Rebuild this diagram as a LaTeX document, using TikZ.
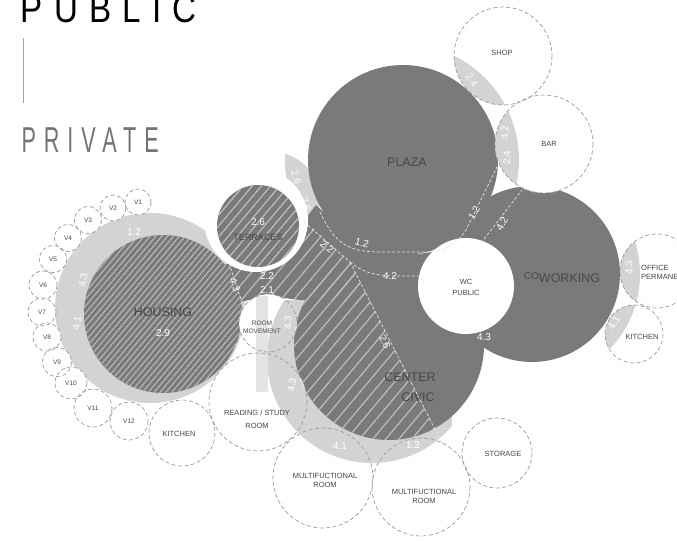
\documentclass[tikz,border=0pt]{standalone}
\usepackage{fontspec}
\setmainfont{Liberation Sans}
\newfontfamily\titlefont[LetterSpace=34]{Liberation Sans}
\newfontfamily\subtitlefont[LetterSpace=37]{Liberation Sans}
\usetikzlibrary{patterns.meta}
\definecolor{zone}{HTML}{7A7A7A}
\definecolor{halo}{HTML}{D3D3D3}
\definecolor{hatch}{HTML}{BEBEBE}
\definecolor{rim}{HTML}{9A9A9A}
\definecolor{ink}{HTML}{474747}
\def\bubbles{503/56/49, 544/144/49, 657/271/37, 634/334/29, 268/323/29, 258/402/49, 182/433/33, 323/478/50, 421/487/49, 497/453/35, 138/202/13, 113/208/13, 88/220/13.5, 68/238/13.5, 53/259/13.5, 43/285/14, 42/312/14, 47/337/14, 57/362/14.5, 71/383/16, 93/408/19, 129/421/19}
\def\corridorpath{(205,268) -- (240,262) -- (280,250) -- (300,226) -- (316,205) -- (345,232) -- (400,258) -- (500,238) -- (470,320) -- (330,300) -- (300,300) -- (268,296) -- (240,302) -- (218,292) -- cycle}

\begin{document}
\begin{tikzpicture}[x=1pt, y=-1pt,
    rimline/.style={draw=rim, dash pattern=on 4pt off 2.5pt, line width=0.7pt},
    roomname/.style={text=ink, font=\fontsize{7.5}{9}\selectfont, align=center, inner sep=0pt},
    vname/.style={text=ink, font=\fontsize{6.5}{7}\selectfont, inner sep=0pt},
    zonename/.style={text=ink, font=\fontsize{12.5}{14}\selectfont, inner sep=0pt},
    wlabel/.style={text=white, font=\fontsize{10}{10}\selectfont, inner sep=0pt},
    link/.style={white!80!zone, dash pattern=on 3pt off 2pt, line width=0.7pt},
    widehatch/.style={pattern={Lines[angle=50,distance=10pt,line width=1.2pt]}, pattern color=hatch},
    midhatch/.style={pattern={Lines[angle=50,distance=7pt,line width=1.2pt]}, pattern color=hatch},
    densehatch/.style={pattern={Lines[angle=50,distance=4.5pt,line width=1pt]}, pattern color=hatch}]
    \useasboundingbox (0,0) rectangle (677,541);
    \clip (0,0) rectangle (677,541);

    \fill[halo] (150,308) circle (95);
    \begin{scope}
        \clip (0,300) rectangle (452,541);
        \fill[halo] (372,358) circle (105);
    \end{scope}
    \begin{scope}
        \clip (403,160) circle (118);
        \fill[halo] (272,200) circle (48);
    \end{scope}

    \fill[zone] \corridorpath;
    \fill[zone] (403,160) circle (95);
    \fill[zone] (532,274) circle (88);
    \fill[zone] (389,345) circle (95);
    \begin{scope}
        \clip (296,212) -- (350,262) -- (447,452) -- (150,470) -- (150,240) -- cycle;
        \path[widehatch] \corridorpath;
        \path[widehatch] (389,345) circle (95);
    \end{scope}

    \fill[white] (256,220) circle (52);
    \fill[zone] (163,314) circle (79);
    \path[densehatch] (163,314) circle (79);
    \fill[zone] (258,226) circle (41);
    \path[midhatch] (258,226) circle (41);
    \fill[white] (466,286) circle (48);

    \foreach \x/\y/\r in \bubbles
        \fill[white] (\x,\y) circle (\r);
    \foreach \x/\y/\r in {503/56/49, 544/144/49} {
        \begin{scope}
            \clip (\x,\y) circle (\r);
            \fill[halo] (403,160) circle (116);
        \end{scope}
    }
    \foreach \x/\y/\r in {657/271/37, 634/334/29} {
        \begin{scope}
            \clip (\x,\y) circle (\r);
            \fill[halo] (532,274) circle (108);
        \end{scope}
    }
    \foreach \x/\y/\r in {268/323/29, 258/402/49, 323/478/50, 421/487/49} {
        \begin{scope}
            \clip (\x,\y) circle (\r);
            \fill[halo, even odd rule] (372,358) circle (105) (389,345) circle (95);
        \end{scope}
    }
    \fill[halo!60!white] (256,296) rectangle (268,392);
    \foreach \x/\y/\r in \bubbles
        \draw[rimline] (\x,\y) circle (\r);

    \coordinate (hub) at (350,262);
    \coordinate (crescent) at (304,222);
    \coordinate (plazaleft) at (320,212);
    \coordinate (barfoot) at (497,167);
    \coordinate (wcwest) at (418,276);
    \coordinate (wcnorth) at (481,243);
    \coordinate (cowork) at (522,190);
    \coordinate (civicfoot) at (443,445);
    \coordinate (terracefoot) at (229,263);
    \coordinate (movetop) at (242,302);
    \draw[link] (crescent) -- (hub);
    \draw[link] (plazaleft) .. controls (335,245) and (350,252) .. (380,252) -- (430,252) .. controls (448,250) and (458,242) .. (466,230) -- (barfoot);
    \draw[link] (hub) .. controls (362,272) and (375,276) .. (398,276) -- (wcwest);
    \draw[link] (wcnorth) -- (cowork);
    \draw[link] (hub) -- (civicfoot);
    \draw[link] (terracefoot) -- (movetop);

    \node[anchor=base west, inner sep=0pt, font=\titlefont\fontsize{39}{39}\selectfont] (public) at (20.5,22) {\scalebox{0.85}[1]{PUBLIC}};
    \node[anchor=base west, inner sep=0pt, text=black!55, font=\subtitlefont\fontsize{36}{36}\selectfont] (private) at (21.3,152) {\scalebox{0.6}[1]{PRIVATE}};
    \draw[black!35, line width=1pt] (23,38) -- (23,103);

    \node[zonename] (plaza) at (407,162) {PLAZA};
    \node[zonename] (housing) at (163,312) {HOUSING};
    \node[zonename] (center) at (410,377) {CENTER};
    \node[zonename] (civic) at (418,397) {CIVIC};
    \node[zonename] (coworking) at (562,278) {\raisebox{3pt}{\fontsize{10}{10}\selectfont CO}WORKING};
    \node[roomname, font=\fontsize{9}{10}\selectfont] (terraces) at (258,237) {TERRACES};
    \node[roomname] (shop) at (502,53) {SHOP};
    \node[roomname] (bar) at (549,144) {BAR};
    \node[roomname] (wc) at (466,287) {WC\\[2pt]PUBLIC};
    \node[roomname, anchor=west, align=left] (office) at (641,272) {OFFICE\\PERMANENT};
    \node[roomname] (kitchenr) at (642,337) {KITCHEN};
    \node[roomname, font=\fontsize{6.5}{8}\selectfont] (movement) at (262,327) {ROOM\\MOVEMENT};
    \node[roomname] (reading) at (257,419) {READING / STUDY\\[4pt]ROOM};
    \node[roomname] (kitchenl) at (179,434) {KITCHEN};
    \node[roomname] (multione) at (325,480) {MULTIFUCTIONAL\\ROOM};
    \node[roomname] (multitwo) at (424,496) {MULTIFUCTIONAL\\ROOM};
    \node[roomname] (storage) at (503,454) {STORAGE};
    \foreach \x/\y/\t in {138/202/1, 113/208/2, 88/220/3, 68/238/4, 53/259/5, 43/285/6, 42/312/7, 47/337/8, 57/362/9, 71/383/10, 93/408/11, 129/421/12}
        \node[vname] (v\t) at (\x,\y) {V\t};

    \node[wlabel] (wa) at (134,232) {1.2};
    \node[wlabel, rotate=80] (wb) at (83,280) {4.3};
    \node[wlabel, rotate=80] (wc2) at (77,323) {4.1};
    \node[wlabel] (wd) at (163,333) {2.9};
    \node[wlabel] (we) at (258,222) {2.6};
    \node[wlabel, rotate=-75] (wf) at (296,177) {2.6};
    \node[wlabel, rotate=-75] (wg) at (306,204) {2.6};
    \node[wlabel, rotate=-70] (wh) at (235,285) {4.3};
    \node[wlabel] (wi) at (267,276) {2.2};
    \node[wlabel] (wj) at (267,290) {2.1};
    \node[wlabel, rotate=-35] (wk) at (327,247) {2.2};
    \node[wlabel, rotate=-15] (wl) at (362,243) {1.2};
    \node[wlabel] (wm) at (390,276) {4.2};
    \node[wlabel, rotate=-65] (wn) at (385,342) {2.6};
    \node[wlabel, rotate=60] (wo) at (474,213) {1.2};
    \node[wlabel, rotate=60] (wp) at (502,224) {4.2};
    \node[wlabel] (wq) at (484,337) {4.3};
    \node[wlabel] (wr) at (340,446) {4.1};
    \node[wlabel] (ws) at (413,445) {1.2};
    \node[wlabel, rotate=80] (wt) at (292,385) {4.3};
    \node[wlabel, rotate=90] (wu) at (288,323) {4.3};
    \node[wlabel, rotate=-55] (wv) at (472,80) {2.4};
    \node[wlabel, rotate=90] (ww) at (505,133) {4.2};
    \node[wlabel, rotate=90] (wx) at (507,158) {2.4};
    \node[wlabel, rotate=90] (wy) at (629,268) {4.3};
    \node[wlabel, rotate=60] (wz) at (614,323) {4.1};
\end{tikzpicture}
\end{document}
